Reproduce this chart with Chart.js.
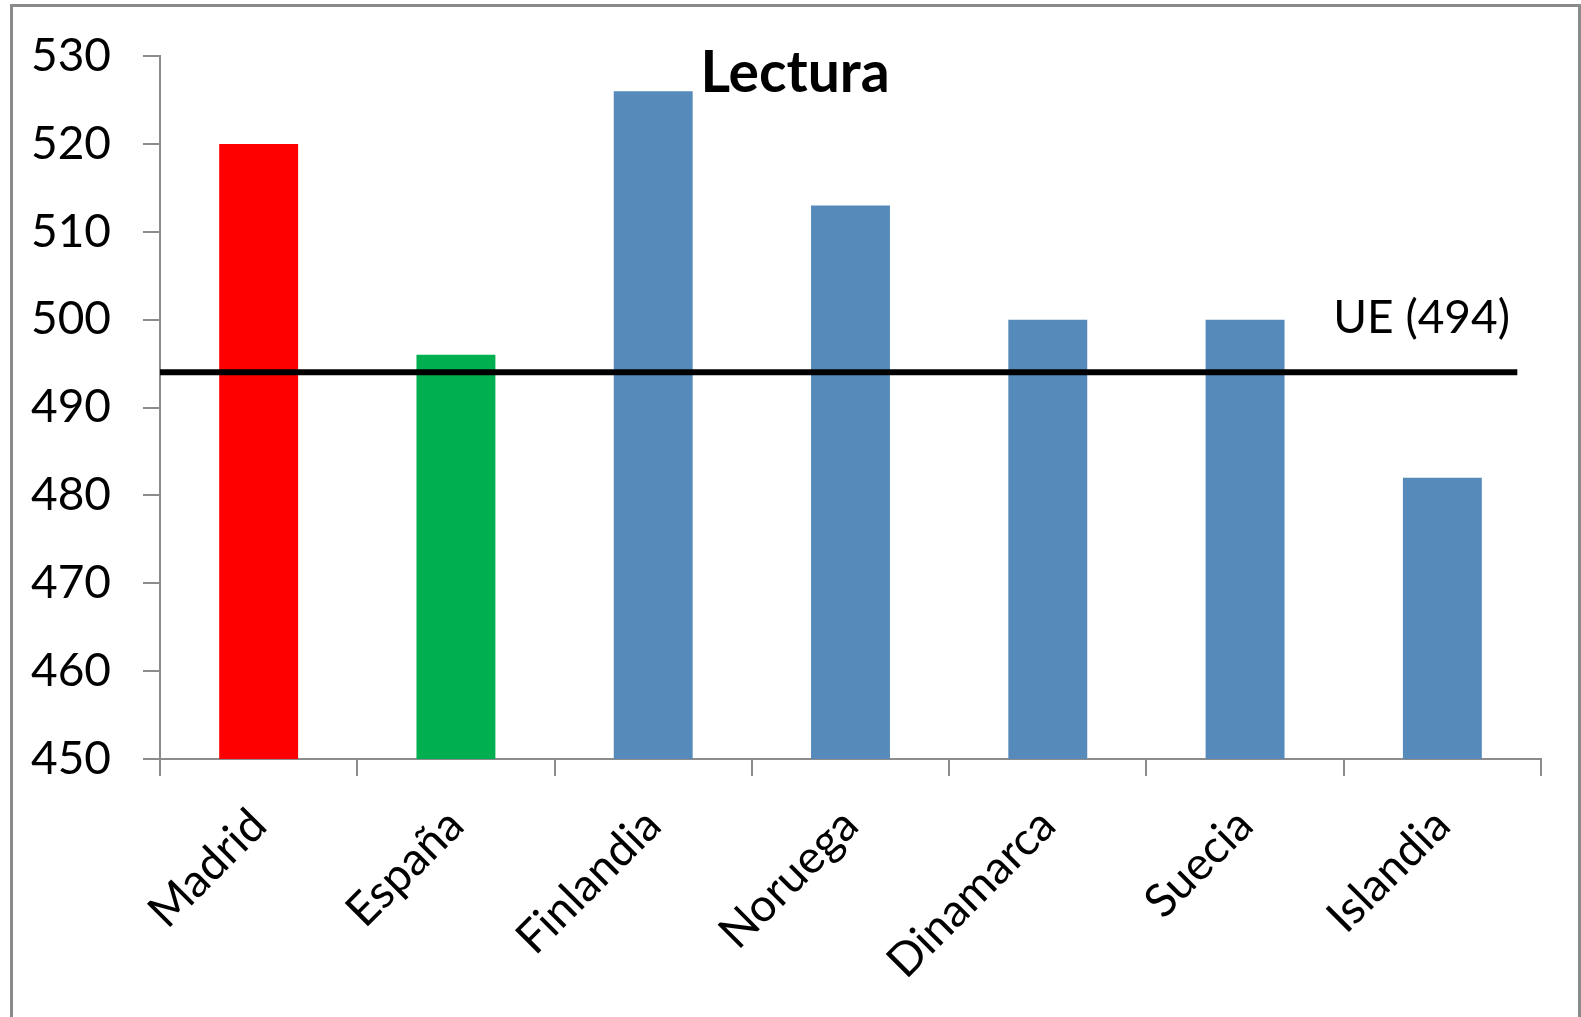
<!DOCTYPE html>
<html>
<head>
<meta charset="utf-8">
<title>Lectura</title>
<script src="https://cdn.jsdelivr.net/npm/chart.js@4.4.1/dist/chart.umd.min.js"></script>
<style>
  html, body { margin: 0; padding: 0; background: #fff; overflow: hidden; }
  #wrap { position: relative; width: 1581px; height: 1017px; }
  #wrap canvas { position: absolute; left: 0; top: 0; }
  #frame {
    position: absolute; left: 10px; top: 4px; width: 1565px; height: 1060px;
    border: 3px solid #8a8a8a; pointer-events: none;
  }
</style>
</head>
<body>
<div id="wrap">
  <canvas id="lectura" width="1581" height="1017"></canvas>
  <div id="frame"></div>
</div>
<script>
// ---------------- DATA ----------------
const paises = ['Madrid', 'España', 'Finlandia', 'Noruega', 'Dinamarca', 'Suecia', 'Islandia'];
const puntuaciones = [520, 496, 526, 513, 500, 500, 482];
const coloresBarra = ['#ff0000', '#00b050', '#558aba', '#558aba', '#558aba', '#558aba', '#558aba'];

const ejeMin = 450;
const ejeMax = 530;
const ejePaso = 10;

// EU average reference line and how far along the category axis it runs
const mediaUE = 494;
const tramoUE = [0, 6.88];

const FUENTE = 'Lato, "Open Sans", sans-serif';
const GRIS = '#8c8c8c';

// Title and the UE label sit inside the plot area
const rotulos = {
  id: 'rotulos',
  afterDraw(chart) {
    const ctx = chart.ctx;
    const y = chart.scales.y;
    ctx.save();
    ctx.fillStyle = '#000';
    ctx.textBaseline = 'alphabetic';

    ctx.font = 'bold 57px ' + FUENTE;
    ctx.textAlign = 'center';
    ctx.fillText('Lectura', 795, 92);

    ctx.font = '46px ' + FUENTE;
    ctx.textAlign = 'right';
    ctx.fillText('UE (' + mediaUE + ')', 1510, y.getPixelForValue(mediaUE) - 39);
    ctx.restore();
  }
};

const chart = new Chart(document.getElementById('lectura'), {
  data: {
    labels: paises,
    datasets: [
      {
        type: 'line',
        label: 'UE',
        data: tramoUE.map(x => ({ x: x, y: mediaUE })),
        xAxisID: 'x2',
        borderColor: '#000',
        borderWidth: 6,
        pointRadius: 0,
        fill: false,
        order: 0
      },
      {
        type: 'bar',
        label: 'Lectura',
        data: puntuaciones,
        backgroundColor: coloresBarra,
        borderWidth: 0,
        grouped: false,
        barPercentage: 0.4,
        categoryPercentage: 1.0,
        order: 1
      }
    ]
  },
  options: {
    responsive: false,
    animation: false,
    layout: { padding: { top: 56, right: 40, left: 0, bottom: 0 } },
    plugins: {
      legend: { display: false },
      tooltip: { enabled: false },
      title: { display: false }
    },
    scales: {
      x: {
        type: 'category',
        offset: true,
        grid: {
          offset: true,
          drawOnChartArea: false,
          drawTicks: true,
          tickLength: 17,
          color: GRIS,
          lineWidth: 2
        },
        border: { display: true, color: GRIS, width: 2 },
        ticks: {
          autoSkip: false,
          minRotation: 45,
          maxRotation: 45,
          padding: 22,
          color: '#000',
          font: { family: FUENTE, size: 46 }
        },
        afterFit(scale) { scale.height = 258; }
      },
      x2: {
        type: 'linear',
        display: false,
        min: 0,
        max: paises.length
      },
      y: {
        min: ejeMin,
        max: ejeMax,
        grid: {
          drawOnChartArea: false,
          drawTicks: true,
          tickLength: 17,
          color: GRIS,
          lineWidth: 2
        },
        border: { display: true, color: GRIS, width: 2 },
        ticks: {
          stepSize: ejePaso,
          padding: 32,
          color: '#000',
          font: { family: FUENTE, size: 46, lineHeight: 1.0 }
        },
        afterFit(scale) { scale.width = 160; }
      }
    }
  },
  plugins: [rotulos]
});
</script>
</body>
</html>
